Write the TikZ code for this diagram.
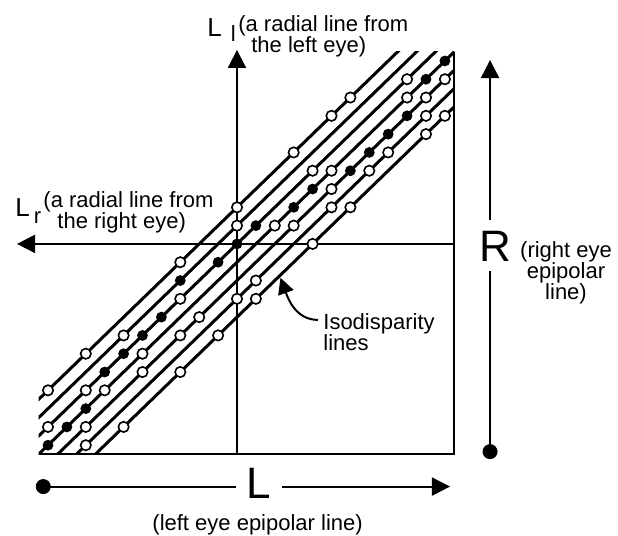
\documentclass[tikz,border=0pt]{standalone}
\usepackage{fontspec}
\setmainfont{Liberation Sans}
\usetikzlibrary{arrows.meta}

\begin{document}
\begin{tikzpicture}[x=9.45pt, y=9.15pt]
% styles
\tikzstyle{axe}=[line width=1pt, -{Triangle[length=9pt, width=9pt]}]
\tikzstyle{trait}=[line width=1pt]
\tikzstyle{droite}=[line width=1.5pt]
\tikzstyle{vide}=[draw=black, fill=white, line width=0.8pt]
\tikzstyle{plein}=[fill=black]
\tikzstyle{texte}=[inner sep=0pt, align=left, font=\fontsize{11}{10.5}\selectfont]
\tikzstyle{etiq}=[inner sep=0pt, font=\fontsize{13}{13}\selectfont]
\tikzstyle{grand}=[font=\fontsize{22}{24}\selectfont]
\tikzstyle{renvoi}=[line width=1pt, -{Triangle[length=8pt, width=8pt]}]

\useasboundingbox (-12.54,-15.96) rectangle (20.16,13.33);

% cadre et axes
\coordinate (O) at (0,0);
\coordinate (BG) at (-10.5,-11.5);
\coordinate (BD) at (11.5,-11.5);
\coordinate (HD) at (11.5,10.5);
\coordinate (Lbas) at (0,-11.5);
\coordinate (Lhaut) at (0,10.6);
\coordinate (Rdroite) at (11.5,0);
\coordinate (Rgauche) at (-11.64,0);
\draw[trait] (BG) -- (BD) -- (HD);
\draw[axe] (Lbas) -- (Lhaut);
\draw[axe] (Rdroite) -- (Rgauche);

% droites d'isodisparite
\begin{scope}
\clip (BG) rectangle (HD);
\foreach \c in {-4,...,2}
  \draw[droite] (-12,-12+\c) -- (12,12+\c);
\end{scope}

% points
\foreach \x/\y in {0/0,1/1,-1/-1,-4/-4,-5/-5,-6/-6,-7/-7,-3/-2,3/2,4/3,-8/-9,-9/-10,-10/-11,10/9,11/10,6/4,7/5,8/6,9/7}
  \fill[plein] (\x,\y) circle (2.7pt);
\foreach \x/\y in {-10/-8,-8/-6,-3/-1,0/2,3/5,5/7,6/8,
                   -6/-5,0/1,
                   -3/-3,-8/-8,-10/-10,4/4,9/9,
                   2/1,5/4,-5/-6,-7/-8,9/8,
                   3/1,5/3,-2/-4,-3/-5,-5/-7,-8/-10,10/8,11/9,
                   0/-3,1/-2,5/2,7/4,8/5,10/7,-8/-11,
                   1/-3,-1/-5,-3/-7,-6/-10,4/0,6/2,10/6,11/7}
  \filldraw[vide] (\x,\y) circle (2.6pt);

% etiquettes des axes
\node[etiq, anchor=base west] (Ll) at (-1.59,11.31) {L\kern4.5pt\raisebox{-2.5pt}{\fontsize{11}{11}\selectfont l}};
\node[texte, anchor=north west] (Lltxt) at (0.05,12.51) {(a radial line from\\\hspace*{6.5pt}the left eye)};
\node[etiq, anchor=base west] (Lr) at (-11.75,1.49) {L\kern2pt\raisebox{-3.5pt}{\fontsize{11}{11}\selectfont r}};
\node[texte, anchor=north west] (Lrtxt) at (-10.26,2.86) {(a radial line from\\\hspace*{7pt}the right eye)};

% isodisparite
\node[texte, anchor=north west] (iso) at (4.55,-3.77) {Isodisparity\\lines};
\coordinate (isobout) at (2.3,-1.85);
\draw[renvoi] ([shift={(-2.5pt,-3.5pt)}]iso.north west) to[out=180, in=-70] (isobout);

% epipolaire droite
\coordinate (Rpoint) at (13.39,-11.35);
\coordinate (Rfleche) at (13.39,10.05);
\node[grand, inner xsep=0pt, inner ysep=5pt] (R) at (13.65,-0.11) {R};
\node[texte, align=center, anchor=north] (Rtxt) at (17.41,0.13) {(right eye\\epipolar\\line)};
\fill (Rpoint) circle (3.75pt);
\draw[trait] (Rpoint) -- (Rpoint |- R.south);
\draw[axe] (Rpoint |- R.north) -- (Rfleche);

% epipolaire gauche
\coordinate (Lpoint) at (-10.25,-13.26);
\coordinate (Lfleche) at (11.27,-13.26);
\node[grand, inner xsep=5pt, inner ysep=0pt] (L) at (1.16,-13.06) {L};
\node[texte, align=center] (Ltxt) at (1.09,-15.36) {(left eye epipolar line)};
\fill (Lpoint) circle (3.75pt);
\draw[trait] (Lpoint) -- (L.west |- Lpoint);
\draw[axe] (L.east |- Lpoint) -- (Lfleche);
\end{tikzpicture}
\end{document}
